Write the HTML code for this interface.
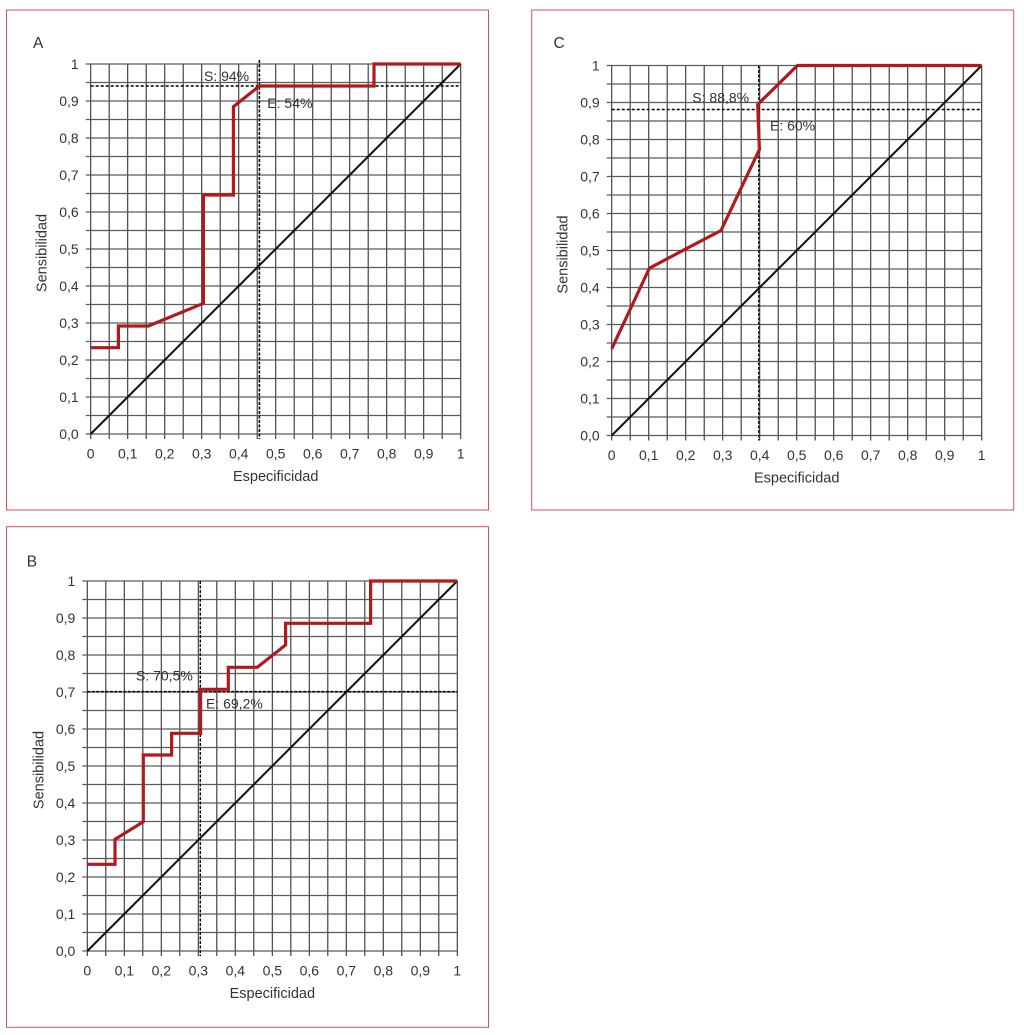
<!DOCTYPE html>
<html>
<head>
<meta charset="utf-8">
<style>
html,body{margin:0;padding:0;background:#fff;}
svg{display:block;}
text{font-family:"Liberation Sans",Arial,sans-serif;fill:#333;}
</style>
</head>
<body>
<svg width="1024" height="1035" viewBox="0 0 1024 1035" xmlns="http://www.w3.org/2000/svg">
<defs>
<g id="grid">
<path d="M0 0V375M18.5 0V375M37 0V375M55.5 0V375M74 0V375M92.5 0V375M111 0V375M129.5 0V375M148 0V375M166.5 0V375M185 0V375M203.5 0V375M222 0V375M240.5 0V375M259 0V375M277.5 0V375M296 0V375M314.5 0V375M333 0V375M351.5 0V375M370 0V375" stroke="#333" stroke-width="1.1" fill="none"/>
<path d="M-5 0H370M-5 18.5H370M-5 37H370M-5 55.5H370M-5 74H370M-5 92.5H370M-5 111H370M-5 129.5H370M-5 148H370M-5 166.5H370M-5 185H370M-5 203.5H370M-5 222H370M-5 240.5H370M-5 259H370M-5 277.5H370M-5 296H370M-5 314.5H370M-5 333H370M-5 351.5H370M-5 370H370" stroke="#5a5a5a" stroke-width="1.3" fill="none"/>
<g font-size="14" text-anchor="end">
<text x="-12" y="5">1</text>
<text x="-12" y="42">0,9</text>
<text x="-12" y="79">0,8</text>
<text x="-12" y="116">0,7</text>
<text x="-12" y="153">0,6</text>
<text x="-12" y="190">0,5</text>
<text x="-12" y="227">0,4</text>
<text x="-12" y="264">0,3</text>
<text x="-12" y="301">0,2</text>
<text x="-12" y="338">0,1</text>
<text x="-12" y="375">0,0</text>
</g>
<g font-size="14" text-anchor="middle">
<text x="0" y="394.5">0</text>
<text x="37" y="394.5">0,1</text>
<text x="74" y="394.5">0,2</text>
<text x="111" y="394.5">0,3</text>
<text x="148" y="394.5">0,4</text>
<text x="185" y="394.5">0,5</text>
<text x="222" y="394.5">0,6</text>
<text x="259" y="394.5">0,7</text>
<text x="296" y="394.5">0,8</text>
<text x="333" y="394.5">0,9</text>
<text x="370" y="394.5">1</text>
<text x="185" y="417" font-size="14.5">Especificidad</text>
<text transform="translate(-44,189) rotate(-90)" font-size="14.5">Sensibilidad</text>
</g>
<line x1="0" y1="370" x2="370" y2="0" stroke="#111" stroke-width="2"/>
</g>
</defs>

<!-- Panel borders -->
<rect x="6.5" y="10" width="482" height="500" fill="none" stroke="#d9505a" stroke-width="1"/>
<rect x="531.7" y="10" width="482" height="500" fill="none" stroke="#d9505a" stroke-width="1"/>
<rect x="6.5" y="526.7" width="482" height="500.6" fill="none" stroke="#d9505a" stroke-width="1"/>

<!-- Panel A -->
<text x="33" y="48" font-size="15.5">A</text>
<g transform="translate(90.7,64)">
<use href="#grid"/>
<line x1="0" y1="22" x2="370" y2="22" stroke="#000" stroke-width="1.5" stroke-dasharray="3,2"/>
<line x1="168.7" y1="-4" x2="168.7" y2="375" stroke="#000" stroke-width="1.6" stroke-dasharray="3,1.5"/>
<polyline points="0,283.7 27.7,283.7 27.7,262 57.7,262 112.7,239.3 112.7,131 142.7,131 142.7,42.7 168.7,22 283.3,22 283.3,0 370,0" fill="none" stroke="#b0191e" stroke-width="3.2" stroke-linejoin="miter"/>
<text x="113.3" y="17" font-size="14">S: 94%</text>
<text x="176.6" y="44" font-size="14">E: 54%</text>
</g>

<!-- Panel C -->
<text x="553.5" y="48" font-size="15.5">C</text>
<g transform="translate(611.7,65.5)">
<use href="#grid"/>
<line x1="0" y1="44" x2="370" y2="44" stroke="#000" stroke-width="1.4" stroke-dasharray="3,2"/>
<line x1="147" y1="0" x2="147" y2="375" stroke="#000" stroke-width="1.2" stroke-dasharray="3,1.5"/>
<polyline points="0,283.3 37.7,202.7 71.7,184.7 109.3,165 147.7,84 146,39 185.7,0 370,0" fill="none" stroke="#b0191e" stroke-width="3.2" stroke-linejoin="miter"/>
<text x="80.6" y="37.2" font-size="14">S: 88,8%</text>
<text x="158.3" y="65.2" font-size="14">E: 60%</text>
</g>

<!-- Panel B -->
<text x="26.7" y="566.5" font-size="15.5">B</text>
<g transform="translate(87.3,581)">
<use href="#grid"/>
<line x1="0" y1="110.7" x2="370" y2="110.7" stroke="#000" stroke-width="1.6" stroke-dasharray="3,1.5"/>
<line x1="113" y1="0" x2="113" y2="375" stroke="#000" stroke-width="1.4" stroke-dasharray="3,1.5"/>
<polyline points="0,283.3 27.7,283.3 27.7,258.3 56,240.7 56,174 84.3,174 84.3,152.3 113.3,152.3 113.3,108.3 141,108.3 141,86.3 170,86.3 198.3,64 198.3,42.3 283.3,42.3 283.3,0 370,0" fill="none" stroke="#b0191e" stroke-width="3.2" stroke-linejoin="miter"/>
<text x="48.7" y="99.7" font-size="14">S: 70,5%</text>
<text x="118.7" y="127.3" font-size="14">E: 69,2%</text>
</g>
</svg>
</body>
</html>
